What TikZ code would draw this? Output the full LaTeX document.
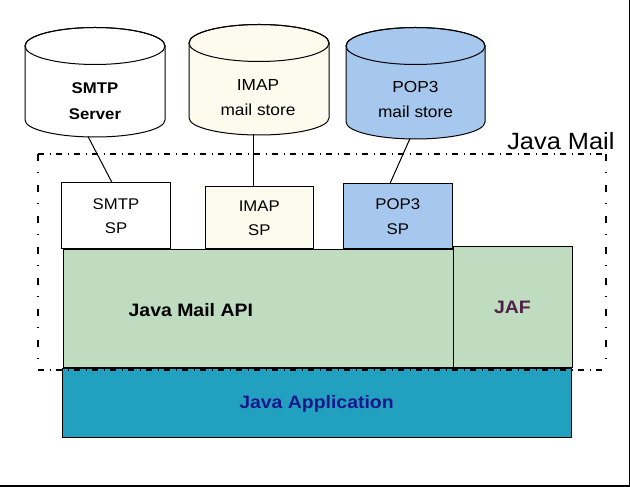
\documentclass[tikz,border=0pt]{standalone}
\usepackage{fontspec}
\setmainfont{Liberation Sans}[FakeStretch=1.08]
\usetikzlibrary{calc}
\definecolor{imapcream}{RGB}{253,250,238}
\definecolor{popblue}{RGB}{166,200,238}
\definecolor{apigreen}{RGB}{192,220,192}
\definecolor{appblue}{RGB}{34,160,192}
\definecolor{appnavy}{RGB}{24,24,140}
\definecolor{jafpurple}{RGB}{80,32,72}
\tikzset{
  lbl/.style={font=\fontsize{16}{25}\selectfont, align=center, inner sep=0pt},
  boldlbl/.style={font=\bfseries\fontsize{18}{22}\selectfont, inner sep=0pt},
  spbox/.style={draw, line width=1pt, inner sep=0pt, align=center,
    font=\fontsize{15.5}{24.5}\selectfont},
  layer/.style={draw, line width=1pt, inner sep=0pt},
  hdash/.style={line width=1.5pt, dash pattern=on 6pt off 5.5pt on 1pt off 5.5pt},
  vdash/.style={line width=1.5pt, dash pattern=on 7pt off 11.5pt on 1pt off 11.5pt},
}
\begin{document}
\begin{tikzpicture}[x=1pt,y=1pt,line width=1pt]
  \useasboundingbox (0,0) rectangle (630,487);
  % mail stores
  \filldraw[fill=white] (25,441) -- (25,367) arc[start angle=180,end angle=360,x radius=70,y radius=17] -- (165,441) arc[start angle=0,end angle=180,x radius=70,y radius=18.5] -- cycle;
  \draw (95,441) ellipse[x radius=70,y radius=18.5];
  \filldraw[fill=imapcream] (189,444) -- (189,369) arc[start angle=180,end angle=360,x radius=70,y radius=17] -- (329,444) arc[start angle=0,end angle=180,x radius=70,y radius=18.5] -- cycle;
  \draw (259,444) ellipse[x radius=70,y radius=18.5];
  \filldraw[fill=popblue] (346,441) -- (346,365) arc[start angle=180,end angle=360,x radius=69.5,y radius=17] -- (485,441) arc[start angle=0,end angle=180,x radius=69.5,y radius=18.5] -- cycle;
  \draw (415.5,441) ellipse[x radius=69.5,y radius=18.5];
  \node[lbl, font=\bfseries\fontsize{15.5}{26}\selectfont] (smtpsrv) at (95,385.7) {SMTP\\Server};
  \node[lbl] (imapstore) at (258,389) {IMAP\\mail store};
  \node[lbl] (popstore) at (415.5,387.3) {POP3\\mail store};
  \coordinate (smtpbot) at (88,350.5);
  \coordinate (imapbot) at (253,352.5);
  \coordinate (popbot) at (410,348.5);
  % service providers
  \node[spbox, minimum width=109, minimum height=66] (smtpsp) at (116,271) {SMTP\\SP};
  \node[spbox, fill=imapcream, minimum width=107.5, minimum height=62] (imapsp) at (259.25,269) {IMAP\\SP};
  \node[spbox, fill=popblue, minimum width=109.5, minimum height=65] (popsp) at (397.75,270.5) {POP3\\SP};
  \draw (smtpbot) -- ($(smtpsp.north)+(-4,0)$);
  \draw (imapbot) -- (imapbot |- imapsp.north);
  \draw (popbot) -- ($(popsp.north)+(-7.75,0)$);
  % api layers
  \node[layer, fill=apigreen, minimum width=390, minimum height=118] (api) at (258,178) {};
  \node[boldlbl] (apitxt) at (190.8,177) {Java Mail API};
  \node[layer, fill=apigreen, minimum width=119, minimum height=121, boldlbl, text=jafpurple] (jaf) at (512.5,179.5) {JAF};
  \node[layer, fill=appblue, minimum width=509, minimum height=69, boldlbl, text=appnavy] (app) at (316.5,83.5) {Java Application};
  % java mail frame
  \draw[hdash] (38,333) -- (606,333);
  \draw[hdash] (38,117) -- (606,117);
  \draw[vdash] (38,333) -- (38,117);
  \draw[vdash] (606,333) -- (606,117);
  \node[font=\fontsize{23.5}{27}\selectfont, inner sep=0pt, anchor=base east] (javamail) at (615,337.7) {Java Mail};
  % outer edge
  \draw[line width=1.5pt] (0,0.75) -- (629.25,0.75) -- (629.25,487);
\end{tikzpicture}
\end{document}
